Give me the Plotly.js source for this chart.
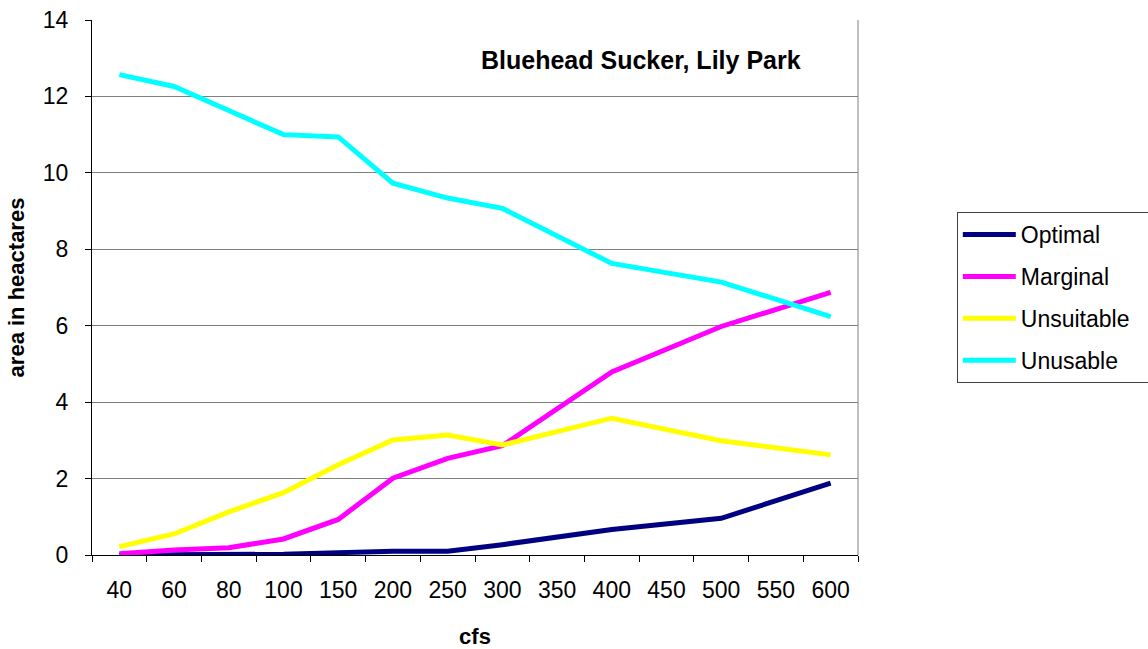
<!DOCTYPE html>
<html>
<head>
<meta charset="utf-8">
<script src="https://cdn.plot.ly/plotly-3.0.1.min.js"></script>
<style>
html,body{margin:0;padding:0;background:#fff;overflow:hidden;}
#chart{width:1148px;height:649px;}
</style>
</head>
<body>
<div id="chart"></div>
<script>
const categories = ['40','60','80','100','150','200','250','300','350','400','450','500','550','600'];
const optimal    = [0, 0, 0, 0.02, 0.06, 0.10, 0.10, 0.27, null, 0.67, null, 0.96, null, 1.88];
const marginal   = [0.03, 0.13, 0.19, 0.42, 0.93, 2.01, 2.53, 2.86, null, 4.79, null, 5.98, null, 6.87];
const unsuitable = [0.22, 0.55, 1.13, 1.63, 2.36, 3.01, 3.14, 2.88, null, 3.58, null, 2.99, null, 2.62];
const unusable   = [12.57, 12.26, 11.63, 11.00, 10.94, 9.73, 9.34, 9.07, null, 7.63, null, 7.14, null, 6.24];
const seriesNames = ['Optimal','Marginal','Unsuitable','Unusable'];
const seriesColors = ['#000080','#FF00FF','#FFFF00','#00FFFF'];
const seriesData = [optimal, marginal, unsuitable, unusable];
const chartTitle = 'Bluehead Sucker, Lily Park';
const xTitle = 'cfs';
const yTitle = 'area in heactares';

const FONT = 'Liberation Sans, Arial, sans-serif';

const traces = seriesData.map((ys, i) => ({
  type: 'scatter',
  mode: 'lines',
  x: categories,
  y: ys,
  name: seriesNames[i],
  legendgroup: 'g' + i,
  connectgaps: true,
  line: {color: seriesColors[i], width: 5}
}));

const layout = {
  width: 1148,
  height: 649,
  margin: {l: 92, r: 290, t: 20, b: 94},
  paper_bgcolor: '#ffffff',
  plot_bgcolor: '#ffffff',
  font: {family: FONT, color: '#000000', size: 22},
  showlegend: true,
  legend: {
    x: 1.129, y: 0.641, xanchor: 'left', yanchor: 'top',
    bordercolor: '#404040', borderwidth: 1, bgcolor: '#ffffff',
    font: {family: FONT, size: 23, color: '#000000'},
    tracegroupgap: 9,
    itemwidth: 53
  },
  xaxis: {
    type: 'category',
    categoryorder: 'array',
    categoryarray: categories,
    range: [-0.5, 13.5],
    showgrid: false,
    showline: true, linecolor: '#000000', linewidth: 1,
    ticks: 'outside', ticklen: 6, tickcolor: '#000000',
    tickson: 'boundaries',
    ticklabelstandoff: 14,
    tickfont: {family: FONT, size: 23, color: '#000000'},
    zeroline: false,
    title: {text: xTitle, font: {family: FONT, size: 22, weight: 'bold'}, standoff: 32}
  },
  yaxis: {
    range: [0, 14],
    dtick: 2,
    showgrid: true, gridcolor: '#808080', gridwidth: 1,
    showline: true, linecolor: '#000000', linewidth: 1,
    ticks: 'outside', ticklen: 6, tickcolor: '#000000',
    ticklabelstandoff: 12,
    tickfont: {family: FONT, size: 23, color: '#000000'},
    zeroline: false,
    title: {text: yTitle, font: {family: FONT, size: 22, weight: 'bold'}, standoff: 12}
  },
  shapes: [
    {type: 'line', xref: 'paper', yref: 'paper', x0: 1, x1: 1, y0: 0, y1: 1,
     line: {color: '#808080', width: 1}, layer: 'below'}
  ],
  annotations: [
    {text: chartTitle, xref: 'paper', yref: 'paper', x: 0.717, y: 0.925,
     xanchor: 'center', yanchor: 'middle', showarrow: false,
     font: {family: FONT, size: 25, weight: 'bold', color: '#000000'}}
  ]
};

Plotly.newPlot('chart', traces, layout, {displayModeBar: false, staticPlot: true}).then(gd => {
  // legend box extends past the right edge of the picture, as in the reference
  const bg = gd.querySelector('.legend rect.bg');
  if (bg) bg.setAttribute('width', '240');
});
</script>
</body>
</html>
